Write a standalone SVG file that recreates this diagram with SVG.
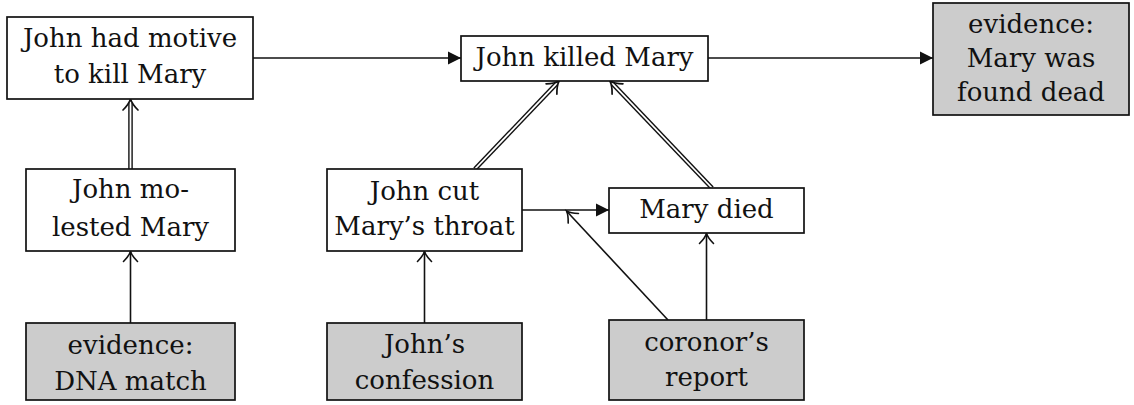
<svg xmlns="http://www.w3.org/2000/svg" width="1134" height="405" viewBox="0 0 1134 405" font-family="'DejaVu Serif', serif">
<style>
.box{fill:#fff;stroke:#111;stroke-width:1.7}
.ev{fill:#ccc;stroke:#111;stroke-width:1.7}
text{font-size:26px;fill:#111;text-anchor:middle}
.ln{fill:none;stroke:#111;stroke-width:1.6}
.dbo{fill:none;stroke:#111;stroke-width:4.6}
.dbi{fill:none;stroke:#fff;stroke-width:1.8}
</style>
<defs>
<marker id="fill" markerUnits="userSpaceOnUse" viewBox="-14 -8 16 16" markerWidth="16" markerHeight="16" refX="0" refY="0" orient="auto" overflow="visible">
<path d="M-13,-6.5 L0,0 L-13,6.5 Z" fill="#111" stroke="none"/>
</marker>
<marker id="open" markerUnits="userSpaceOnUse" viewBox="-12 -8 14 16" markerWidth="14" markerHeight="16" refX="0" refY="0" orient="auto" overflow="visible">
<path d="M-10,-7 Q-4.5,-1.5 0,0 Q-4.5,1.5 -10,7" fill="none" stroke="#111" stroke-width="1.6" stroke-linecap="round"/>
</marker>
<marker id="imp" markerUnits="userSpaceOnUse" viewBox="-14 -10 18 20" markerWidth="18" markerHeight="20" refX="-4" refY="0" orient="auto" overflow="visible">
<path d="M-11,-7.5 Q-5,-1.5 0,0 Q-5,1.5 -11,7.5" fill="none" stroke="#111" stroke-width="1.7" stroke-linecap="round"/>
</marker>
</defs>
<g id="connectors">
<path class="ln" d="M253,58 H461" marker-end="url(#fill)"/>
<path class="ln" d="M708,58 H933" marker-end="url(#fill)"/>
<path class="ln" d="M522,210 H609" marker-end="url(#fill)"/>
<path class="ln" d="M668,320 L566.5,211" marker-end="url(#open)"/>
<path class="ln" d="M706.5,320 V233.5" marker-end="url(#open)"/>
<path class="ln" d="M424.5,323 V251.5" marker-end="url(#open)"/>
<path class="ln" d="M130.5,323 V251.5" marker-end="url(#open)"/>
<path class="dbo" d="M130.5,169 V103"/>
<path class="dbi" d="M130.5,169 V103" marker-end="url(#imp)"/>
<path class="dbo" d="M475,169 L556.3,83.9"/>
<path class="dbi" d="M475,169 L556.3,83.9" marker-end="url(#imp)"/>
<path class="dbo" d="M712,188 L612.7,83.9"/>
<path class="dbi" d="M712,188 L612.7,83.9" marker-end="url(#imp)"/>
</g>
<g id="motive">
<rect class="box" x="7" y="17" width="246" height="82"/>
<text x="130" y="47">John had motive</text>
<text x="130" y="83">to kill Mary</text>
</g>
<g id="killed">
<rect class="box" x="461" y="36" width="247" height="45"/>
<text x="584.5" y="66">John killed Mary</text>
</g>
<g id="found-dead">
<rect class="ev" x="933" y="3" width="196" height="112"/>
<text x="1031" y="33">evidence:</text>
<text x="1031" y="67">Mary was</text>
<text x="1031" y="101">found dead</text>
</g>
<g id="molested">
<rect class="box" x="26" y="169" width="209" height="82"/>
<text x="130.5" y="198">John mo-</text>
<text x="130.5" y="236">lested Mary</text>
</g>
<g id="dna">
<rect class="ev" x="26" y="323" width="209" height="77"/>
<text x="130.5" y="354">evidence:</text>
<text x="130.5" y="390">DNA match</text>
</g>
<g id="cut-throat">
<rect class="box" x="327" y="169" width="195" height="82"/>
<text x="424.5" y="200">John cut</text>
<text x="424.5" y="235">Mary’s throat</text>
</g>
<g id="confession">
<rect class="ev" x="327" y="323" width="195" height="77"/>
<text x="424.5" y="353">John’s</text>
<text x="424.5" y="389">confession</text>
</g>
<g id="died">
<rect class="box" x="609" y="188" width="195" height="45"/>
<text x="706.5" y="218">Mary died</text>
</g>
<g id="coroner">
<rect class="ev" x="609" y="320" width="195" height="80"/>
<text x="706.5" y="351">coronor’s</text>
<text x="706.5" y="386">report</text>
</g>
</svg>
